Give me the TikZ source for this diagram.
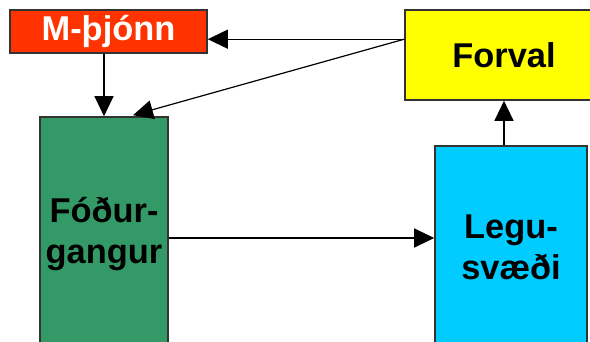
\documentclass[tikz,border=0pt]{standalone}
\usepackage{fontspec}
\setmainfont{Liberation Sans}
\usetikzlibrary{arrows.meta,calc,positioning}
\definecolor{robotred}{HTML}{FF3300}
\definecolor{selectyellow}{HTML}{FFFF00}
\definecolor{feedgreen}{HTML}{339966}
\definecolor{restcyan}{HTML}{00CCFF}
\tikzset{
    barn diagram/.style = {x=0.5pt, y=-0.5pt,
                           >={Triangle[length=10pt, width=9.5pt]}},
    line/.style         = {line width=0.6pt},
    area/.style         = {draw=black!80, line width=0.8pt, inner sep=0pt,
                           align=center,
                           font=\fontsize{17.2}{20.5}\selectfont\bfseries},
}

\begin{document}
\begin{tikzpicture}[barn diagram]
\clip (0,0) rectangle (590,342);

% ================= Barn areas =================
\node[area, fill=robotred, text=white, minimum width=98.5pt,
      minimum height=21.5pt] (robot) at (108.5, 31.5) {M-þjónn};
\node[area, fill=selectyellow, minimum width=99pt,
      minimum height=45pt] (forval) at (504, 55) {Forval};
\node[area, fill=feedgreen, minimum width=64pt,
      minimum height=117pt] (feed) at (104, 234) {Fóður-\\gangur};
\node[area, fill=restcyan, minimum width=76pt,
      minimum height=101pt] (rest) at (511, 247) {Legu-\\svæði};

% ================= Cow traffic =================
\coordinate (gate) at ($(forval.north west)+(0,30)$);
\coordinate (feed out) at ($(feed.east)+(0,4)$);
\draw[->, line] (gate) -- (robot.east |- gate);
\draw[->, line] (gate) -- ($(feed.north)+(29,-1)$);
\draw[->, line] (robot.south -| feed.north) -- (feed.north);
\draw[->, line] (feed out) -- (rest.west |- feed out);
\draw[->, line] (forval.south |- rest.north) -- (forval.south);

\end{tikzpicture}
\end{document}
